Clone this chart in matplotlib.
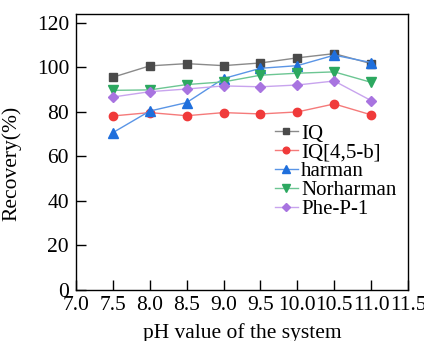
import matplotlib
matplotlib.use("Agg")
import matplotlib.pyplot as plt
from matplotlib.ticker import MultipleLocator

plt.rcParams['font.family'] = ['Liberation Serif', 'DejaVu Serif']

ph = [7.5, 8.0, 8.5, 9.0, 9.5, 10.0, 10.5, 11.0]
iq = [95.6, 100.7, 101.7, 100.8, 102.0, 104.3, 106.2, 101.7]
iq45b = [78.2, 79.7, 78.3, 79.7, 79.1, 80.0, 83.6, 78.7]
harman = [70.7, 80.4, 84.2, 95.0, 99.6, 100.8, 105.5, 102.2]
norharman = [89.7, 89.9, 92.3, 93.5, 96.5, 97.4, 98.0, 93.3]
phep1 = [86.7, 89.1, 90.3, 91.7, 91.3, 92.1, 93.9, 85.1]

labels = ["IQ", "IQ[4,5-b]", "harman", "Norharman", "Phe-P-1"]
series = [iq, iq45b, harman, norharman, phep1]
xticklabels = ["7.0", "7.5", "8.0", "8.5", "9.0", "9.5", "10.0", "10.5", "11.0", "11.5"]
mcolors = ["#4a4a4a", "#f03a3a", "#1f6fdc", "#2ca860", "#a874e0"]
lcolors = ["#8a8a8a", "#f57a7a", "#5a95e6", "#6cc693", "#c8a4ee"]
markers = ["s", "o", "^", "v", "D"]
msizes = [6, 6, 7, 7, 5.5]

fig = plt.figure(figsize=(4.24, 3.41), dpi=100)
ax = fig.add_axes([76/424, 1-290/341, (408-76)/424, (290-14)/341])

for y, lab, mc, lc, mk, ms in zip(series, labels, mcolors, lcolors, markers, msizes):
    ax.plot(ph, y, color=lc, lw=1.0, marker=mk, markersize=ms,
            markerfacecolor=mc, markeredgecolor=mc, label=lab)

ax.set_xlim(7.0, 11.5)
ax.set_ylim(0, 124)
ax.yaxis.set_major_locator(MultipleLocator(20))
ax.set_xticks([7.0 + 0.5*i for i in range(len(xticklabels))])
ax.set_xticklabels(xticklabels)
ax.tick_params(direction='in', length=7, width=1, labelsize=15.5,
               top=False, right=False)
ax.tick_params(axis='x', pad=4)
ax.tick_params(axis='y', pad=5)
for s in ax.spines.values():
    s.set_linewidth(1.0)

ax.set_xlabel("pH value of the system", fontsize=15.5, labelpad=6)
ax.set_ylabel("Recovery(%)", fontsize=15.5)
ax.yaxis.set_label_coords(-0.165, 0.46)

leg = ax.legend(loc='upper left', bbox_to_anchor=((275-76)/332, 1-(124-14)/276),
                frameon=False, fontsize=15, handlelength=1.1, handletextpad=0.15,
                labelspacing=-0.03, borderpad=0, borderaxespad=0, markerscale=0.8)

fig.savefig("out.png", dpi=100)
